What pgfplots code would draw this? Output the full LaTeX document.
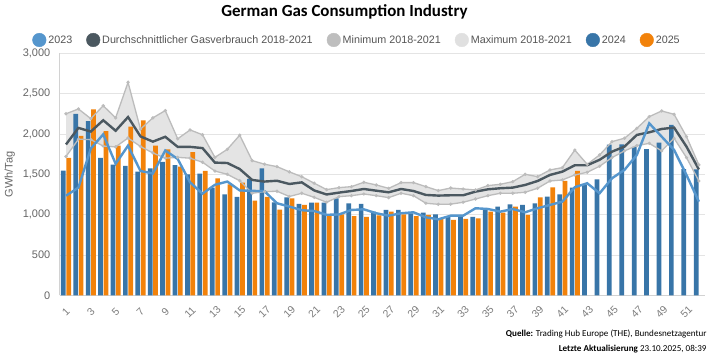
\documentclass[border=0pt]{standalone}
\usepackage{fontspec}
\setmainfont{Liberation Sans}
\newfontfamily\carlito{Carlito}
\usepackage{pgfplots}
\usepackage{pgfplotstable}
\pgfplotsset{compat=1.18}
\definecolor{c2023}{RGB}{85,150,205}
\definecolor{cavg}{RGB}{75,88,96}
\definecolor{c2024}{RGB}{56,117,168}
\definecolor{c2025}{RGB}{242,130,10}
\definecolor{cminleg}{RGB}{190,190,190}
\definecolor{cmaxleg}{RGB}{224,224,224}
\definecolor{cband}{RGB}{228,228,228}
\definecolor{cbandline}{RGB}{188,188,188}
\definecolor{cbandmark}{RGB}{120,120,120}
\definecolor{cGrid}{RGB}{228,228,228}
\definecolor{cAxis}{RGB}{210,210,210}
\definecolor{cTick}{RGB}{102,102,102}
\definecolor{cLeg}{RGB}{85,85,85}

\pgfplotstableread{
w y23 avg mn mx y24 y25
1 1235 1870 1720 2250 1545 1705
2 1335 2075 1935 2310 2248 1975
3 1820 2030 1930 2190 2160 2305
4 1995 2170 1850 2350 1705 2035
5 1630 2040 1840 2200 1620 1855
6 1855 2210 1950 2640 1605 2090
7 1541 1970 1845 2060 1533 2170
8 1510 1905 1765 2200 1574 1855
9 1795 1965 1700 2290 1655 1810
10 1690 1840 1710 1940 1614 1595
11 1400 1840 1700 2050 1500 1775
12 1260 1825 1650 1990 1508 1541
13 1370 1645 1540 1710 1335 1451
14 1410 1640 1500 1810 1252 1376
15 1300 1565 1420 1985 1219 1397
16 1295 1430 1265 1670 1442 1173
17 1290 1410 1285 1625 1575 1219
18 1141 1420 1290 1595 1153 1062
19 1100 1380 1225 1530 1215 1203
20 1055 1400 1265 1470 1132 1120
21 1045 1300 1215 1390 1149 1150
22 998 1250 1153 1310 1149 1004
23 1002 1273 1223 1335 1203 1004
24 1058 1293 1235 1347 1141 983
25 1066 1318 1256 1401 1132 971
26 1017 1297 1235 1368 1037 992
27 987 1277 1211 1326 1058 1037
28 1017 1318 1265 1397 1058 1004
29 1029 1293 1235 1397 1017 983
30 967 1244 1141 1347 1025 996
31 942 1236 1128 1298 1004 958
32 987 1240 1130 1330 975 934
33 987 1240 1153 1318 975 946
34 1079 1285 1194 1306 971 954
35 1070 1314 1235 1360 1058 1037
36 1037 1327 1265 1376 1099 1025
37 1070 1335 1265 1409 1128 1099
38 1029 1368 1277 1500 1120 996
39 1079 1417 1327 1471 1141 1215
40 1120 1492 1417 1554 1223 1339
41 1161 1533 1430 1583 1252 1417
42 1340 1612 1492 1800 1335 1541
43 1389 1612 1525 1624 1372 nan
44 1265 1680 1600 1740 1438 nan
45 1451 1781 1707 1905 1868 nan
46 1554 1843 1790 1947 1872 nan
47 1740 1988 1855 2070 1840 nan
48 2132 2021 1884 2215 1812 nan
49 1967 2062 1790 2285 1893 nan
50 1802 2079 1947 2244 2112 nan
51 1492 1843 1707 1967 1564 nan
52 1161 1560 1417 1616 1560 nan
}\data

\begin{document}
\begin{tikzpicture}
\path[use as bounding box, fill=white] (0bp,0bp) rectangle (713bp,357bp);
\node[anchor=base, font=\carlito\bfseries\fontsize{17}{20}\selectfont] at (344.5bp,340.3bp) {German Gas Consumption Industry};
\node[anchor=base east, font=\carlito\fontsize{9.1}{11}\selectfont] at (710bp,21bp) {\textbf{Quelle:} Trading Hub Europe (THE), Bundesnetzagentur};
\node[anchor=base east, font=\carlito\fontsize{9.1}{11}\selectfont] at (710bp,6bp) {\textbf{Letzte Aktualisierung} 23.10.2025, 08:39};
\begin{axis}[
  at={(59.8bp,61.7bp)}, anchor=south west,
  width=645.3bp, height=242bp, scale only axis,
  xmin=0.5, xmax=52.5, ymin=0, ymax=3000,
  xtick={1,3,...,51}, ytick={0,500,...,3000},
  axis x line*=bottom, axis y line*=left,
  axis line style={draw=cAxis, line width=0.8bp, -},
  major tick length=0pt,
  ymajorgrids, grid style={draw=cGrid, line width=0.8bp},
  /pgf/number format/assume math mode=true,
  /pgf/number format/1000 sep={,},
  yticklabel style={font=\fontsize{11}{13}\selectfont, text=cTick, xshift=-6bp},
  xticklabel style={font=\fontsize{10.5}{12}\selectfont, text=cTick!85, yshift=-17bp, rotate=45, anchor=center, inner sep=0pt},
  every axis y label/.style={at={(axis description cs:-0.0775,0.5)}, rotate=90, anchor=center, font=\fontsize{11}{13}\selectfont, text=cTick},
  ylabel={GWh/Tag},
  legend style={at={(axis description cs:0.4606,1.055)}, anchor=center, draw=none, fill=none,
    font=\fontsize{10.8}{13}\selectfont, text=cLeg,
    /tikz/every even column/.append style={column sep=12bp}},
  legend columns=6, legend cell align=left,
]
% band between minimum and maximum 2018-2021 (max forward, min backward)
\addplot[fill=cband, draw=none, forget plot] coordinates {
(1,2250) (2,2310) (3,2190) (4,2350) (5,2200) (6,2640) (7,2060) (8,2200) (9,2290) (10,1940)
(11,2050) (12,1990) (13,1710) (14,1810) (15,1985) (16,1670) (17,1625) (18,1595) (19,1530) (20,1470)
(21,1390) (22,1310) (23,1335) (24,1347) (25,1401) (26,1368) (27,1326) (28,1397) (29,1397) (30,1347)
(31,1298) (32,1330) (33,1318) (34,1306) (35,1360) (36,1376) (37,1409) (38,1500) (39,1471) (40,1554)
(41,1583) (42,1800) (43,1624) (44,1740) (45,1905) (46,1947) (47,2070) (48,2215) (49,2285) (50,2244)
(51,1967) (52,1616)
(52,1417) (51,1707) (50,1947) (49,1790) (48,1884) (47,1855) (46,1790) (45,1707) (44,1600) (43,1525)
(42,1492) (41,1430) (40,1417) (39,1327) (38,1277) (37,1265) (36,1265) (35,1235) (34,1194) (33,1153)
(32,1130) (31,1128) (30,1141) (29,1235) (28,1265) (27,1211) (26,1235) (25,1256) (24,1235) (23,1223)
(22,1153) (21,1215) (20,1265) (19,1225) (18,1290) (17,1285) (16,1265) (15,1420) (14,1500) (13,1540)
(12,1650) (11,1700) (10,1710) (9,1700) (8,1765) (7,1845) (6,1950) (5,1840) (4,1850) (3,1930)
(2,1935) (1,1720)
} --cycle;
\addplot[ybar, bar width=4.7bp, bar shift=-2.7bp, fill=c2024, draw=none, forget plot] table[x=w, y=y24] {\data};
\addplot[ybar, bar width=4.7bp, bar shift=2.7bp, fill=c2025, draw=none, forget plot] table[x=w, y=y25] {\data};
\addplot[cbandline, line width=1.3bp, mark=*, mark size=0.9bp, mark options={fill=cbandmark, draw=none}, forget plot] table[x=w, y=mx] {\data};
\addplot[cbandline, line width=1.3bp, mark=*, mark size=0.9bp, mark options={fill=cbandmark, draw=none}, forget plot] table[x=w, y=mn] {\data};
\addplot[cavg, line width=2.4bp, no marks, forget plot] table[x=w, y=avg] {\data};
\addplot[c2023, line width=2.4bp, no marks, forget plot] table[x=w, y=y23] {\data};
\addlegendimage{legend image code/.code={\fill[c2023] (6.8bp,0bp) circle (6.8bp);}}
\addlegendentry{2023}
\addlegendimage{legend image code/.code={\fill[cavg] (6.8bp,0bp) circle (6.8bp);}}
\addlegendentry{Durchschnittlicher Gasverbrauch 2018-2021}
\addlegendimage{legend image code/.code={\fill[cminleg] (6.8bp,0bp) circle (6.8bp);}}
\addlegendentry{Minimum 2018-2021}
\addlegendimage{legend image code/.code={\fill[cmaxleg] (6.8bp,0bp) circle (6.8bp);}}
\addlegendentry{Maximum 2018-2021}
\addlegendimage{legend image code/.code={\fill[c2024] (6.8bp,0bp) circle (6.8bp);}}
\addlegendentry{2024}
\addlegendimage{legend image code/.code={\fill[c2025] (6.8bp,0bp) circle (6.8bp);}}
\addlegendentry{2025}
\end{axis}
\end{tikzpicture}
\end{document}
